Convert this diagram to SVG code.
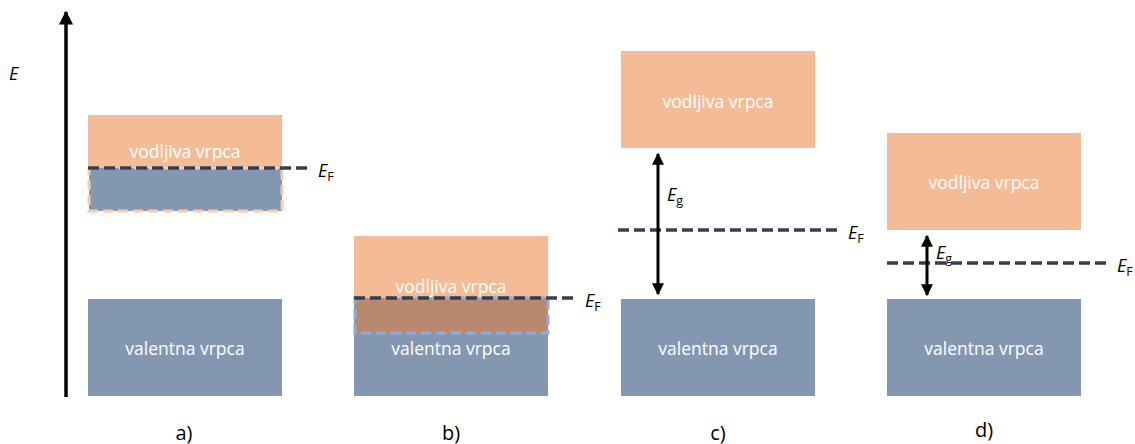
<svg xmlns="http://www.w3.org/2000/svg" width="1135" height="444" viewBox="0 0 1135 444">
<style>
.cb{fill:#F4BC96}
.vb{fill:#8497B0}
.bt{fill:#fff;font-family:"Open Sans","Liberation Sans",Arial,sans-serif;font-size:17.5px;text-anchor:middle}
.ef{stroke:#333F50;stroke-width:3.5;stroke-dasharray:11,5;fill:none}
.lab{font-family:"Open Sans","Liberation Sans",Arial,sans-serif;font-size:18px;fill:#000;font-style:italic}
.sub{font-style:normal;font-size:12.5px}
.cap{font-family:"Open Sans","Liberation Sans",Arial,sans-serif;font-size:20px;fill:#000;text-anchor:middle}
.arr{stroke:#000;stroke-width:3;fill:none}
</style>
<defs>
<marker id="ah" viewBox="0 0 10 10" refX="9" refY="5" markerWidth="4" markerHeight="4" orient="auto-start-reverse" markerUnits="strokeWidth">
<path d="M0,0 L10,5 L0,10 Z" fill="#000"/>
</marker>
</defs>
<g id="axis">
<line x1="66" y1="397" x2="66" y2="12" stroke="#000" stroke-width="3.5" marker-end="url(#ah)"/>
<text x="9" y="80" class="lab">E</text>
</g>
<g id="panel-a">
<rect class="cb" x="88" y="115" width="194" height="53"/>
<text class="bt" x="185" y="158">vodljiva vrpca</text>
<rect x="89" y="168" width="193" height="43" fill="#8497B0" stroke="#F8CBAD" stroke-width="3" stroke-dasharray="10,5"/>
<rect class="vb" x="88" y="299" width="194" height="97"/>
<text class="bt" x="185" y="355">valentna vrpca</text>
<text class="cap" x="184" y="440">a)</text>
</g>
<g id="panel-b">
<rect class="cb" x="354" y="236" width="194" height="62"/>
<rect class="vb" x="354" y="298" width="194" height="98"/>
<rect x="355" y="298" width="193" height="35" fill="#B8896F" stroke="#8FAADC" stroke-width="3" stroke-dasharray="10,5"/>
<text class="bt" x="451" y="293">vodljiva vrpca</text>
<text class="bt" x="451" y="355">valentna vrpca</text>
<text class="cap" x="451" y="440">b)</text>
</g>
<g id="panel-c">
<rect class="cb" x="621" y="51" width="194" height="97"/>
<text class="bt" x="718" y="108">vodljiva vrpca</text>
<rect class="vb" x="621" y="299" width="194" height="97"/>
<text class="bt" x="718" y="355">valentna vrpca</text>
<text class="lab" x="667" y="201">E<tspan class="sub" dy="4">g</tspan></text>
<text class="cap" x="718" y="440">c)</text>
</g>
<g id="panel-d">
<rect class="cb" x="887" y="133" width="194" height="97"/>
<text class="bt" x="984" y="189">vodljiva vrpca</text>
<rect class="vb" x="887" y="299" width="194" height="97"/>
<text class="bt" x="984" y="355">valentna vrpca</text>
<text class="lab" x="936" y="259">E<tspan class="sub" dy="4">g</tspan></text>
<text class="cap" x="984" y="437">d)</text>
</g>
<g id="connectors">
<line class="ef" x1="88" y1="168" x2="312" y2="168"/>
<line class="ef" x1="354" y1="298" x2="578" y2="298"/>
<line class="ef" x1="618" y1="230" x2="842" y2="230"/>
<line class="ef" x1="887" y1="263" x2="1110" y2="263"/>
<line class="arr" x1="658" y1="154" x2="658" y2="294" marker-start="url(#ah)" marker-end="url(#ah)"/>
<line class="arr" x1="927" y1="236" x2="927" y2="295" marker-start="url(#ah)" marker-end="url(#ah)"/>
</g>
<g id="ef-labels">
<text class="lab" x="318" y="177">E<tspan class="sub" dy="4">F</tspan></text>
<text class="lab" x="585" y="307">E<tspan class="sub" dy="4">F</tspan></text>
<text class="lab" x="848" y="239">E<tspan class="sub" dy="4">F</tspan></text>
<text class="lab" x="1117" y="272">E<tspan class="sub" dy="4">F</tspan></text>
</g>
</svg>
